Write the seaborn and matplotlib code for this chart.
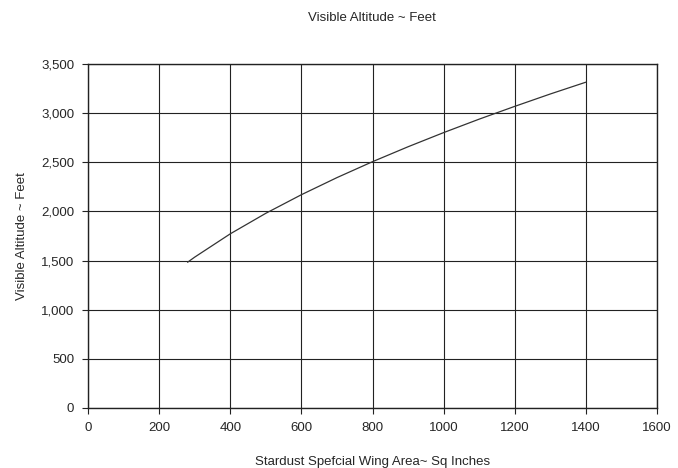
import matplotlib
matplotlib.use('Agg')
import matplotlib.pyplot as plt
import seaborn as sns
from matplotlib.ticker import FuncFormatter

wing_area = [280, 300, 400, 500, 600, 700, 800, 900, 1000, 1100, 1200, 1300, 1400]
altitude = [1483, 1535, 1772, 1981, 2170, 2344, 2506, 2658, 2802, 2939, 3069, 3195, 3315]

sns.set_style('white')
plt.rcParams['font.family'] = ['Liberation Sans', 'DejaVu Sans']

fig = plt.figure(figsize=(6.78, 4.68), dpi=100)
ax = fig.add_axes([88 / 678, 1 - 408 / 468, (657 - 88) / 678, (408 - 64) / 468])

sns.lineplot(x=wing_area, y=altitude, ax=ax, color='#333333', linewidth=0.9)

ax.set_xlim(0, 1600)
ax.set_ylim(0, 3500)
ax.set_xticks(range(0, 1601, 200))
ax.set_yticks(range(0, 3501, 500))
ax.yaxis.set_major_formatter(FuncFormatter(lambda v, p: f'{int(v):,}'))
ax.grid(True, color='#222222', linewidth=0.8)
ax.set_axisbelow(True)

for s in ax.spines.values():
    s.set_color('#222222')
    s.set_linewidth(1.0)

ax.tick_params(axis='both', labelsize=9.5, length=4, width=0.8, color='#222222',
               direction='out', bottom=True, left=True, pad=6)

ax.set_xlabel('Stardust Spefcial Wing Area~ Sq Inches', fontsize=9.5, labelpad=16)
ax.set_ylabel('Visible Altitude ~ Feet', fontsize=9.5, labelpad=9)
fig.text(372 / 678, 1 - 18 / 468, 'Visible Altitude ~ Feet', fontsize=9.5, ha='center', va='center')

fig.savefig('out.png', dpi=100, facecolor='white')
